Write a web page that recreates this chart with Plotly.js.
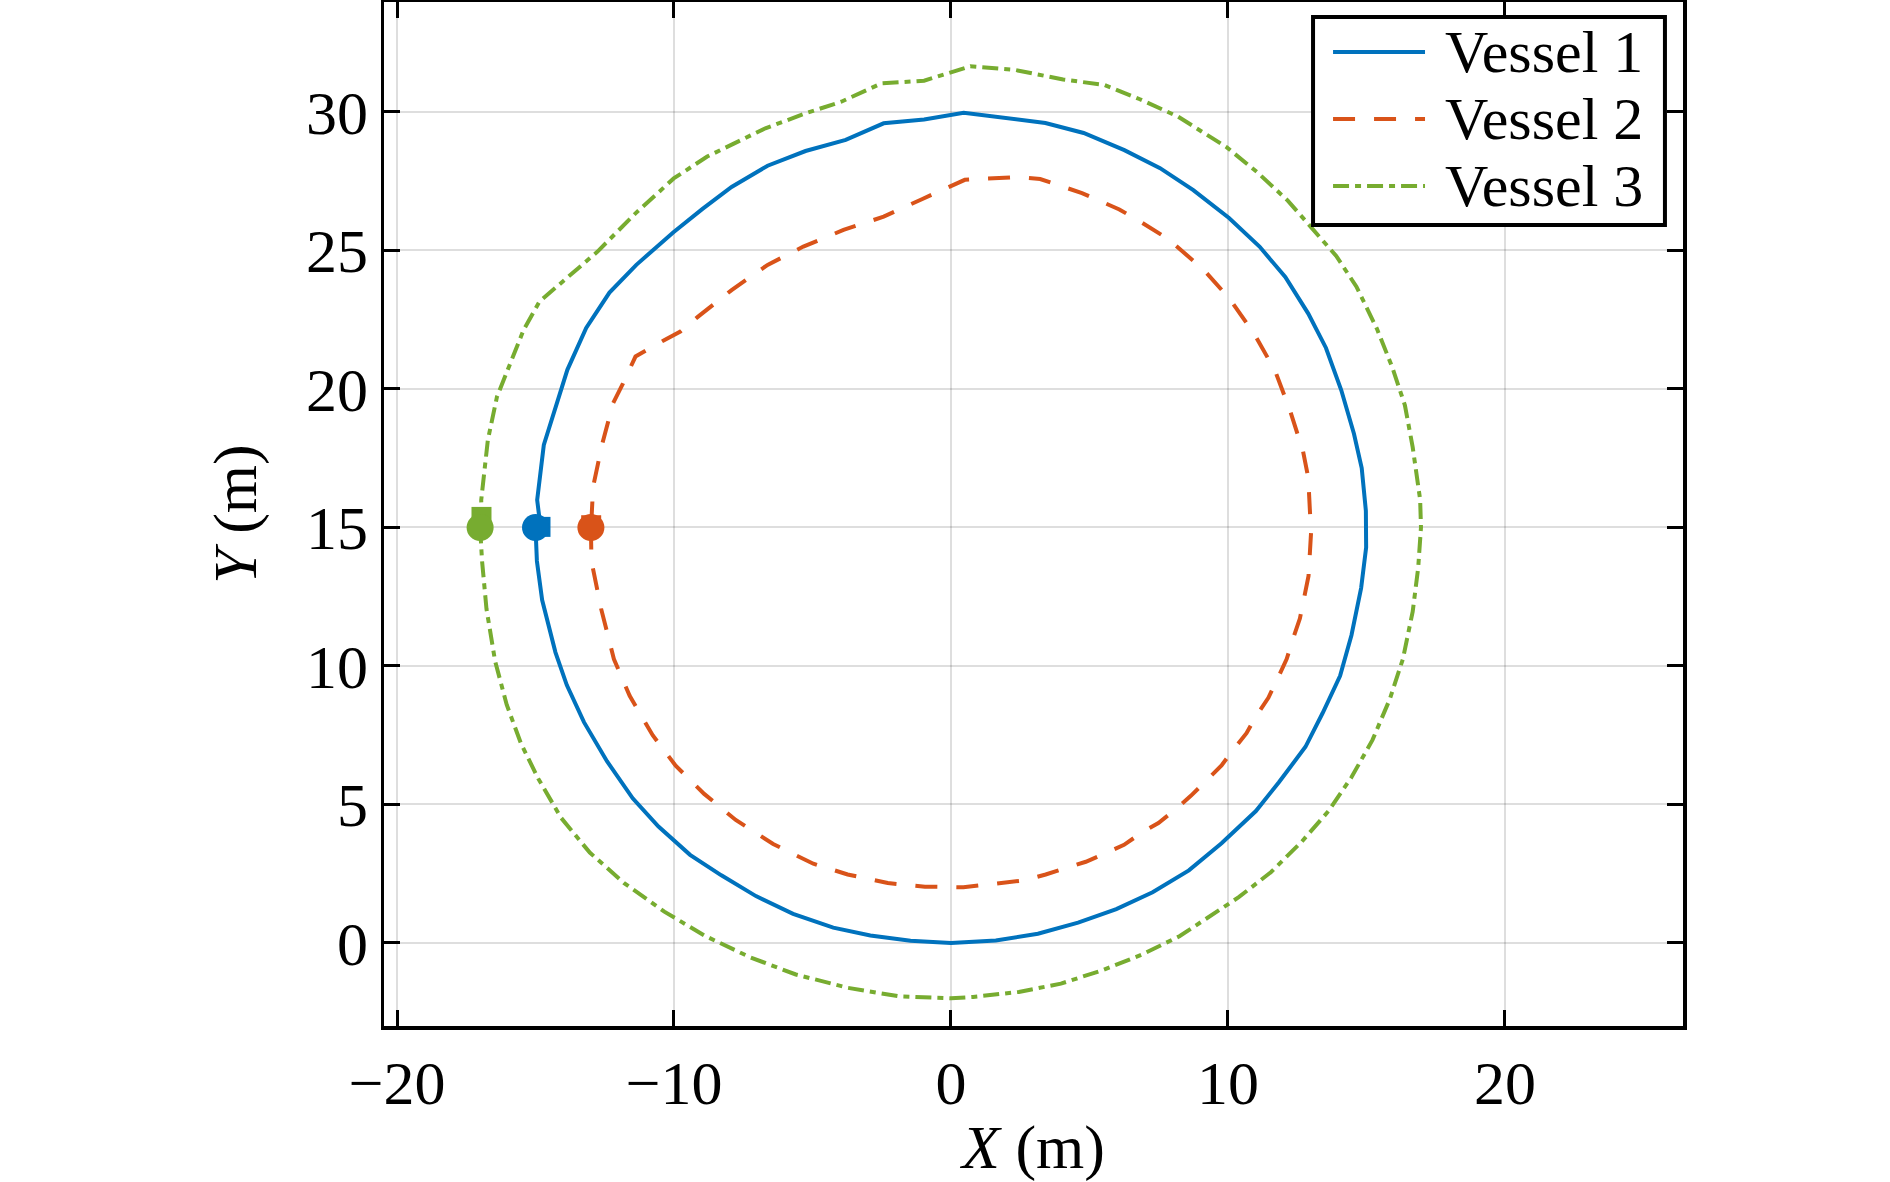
<!DOCTYPE html>
<html>
<head>
<meta charset="utf-8">
<script src="https://cdn.plot.ly/plotly-3.0.1.min.js"></script>
<style>
  html, body { margin: 0; padding: 0; background: #ffffff; }
  #chart { width: 1890px; height: 1182px; }
</style>
</head>
<body>
<div id="chart"></div>
<script>
// ---- Data ----
const seriesNames = ["Vessel 1", "Vessel 2", "Vessel 3"];

const vessel1X = [-15.0, -14.95, -14.76, -14.28, -13.87, -13.25, -12.42, -11.49, -10.56, -9.42, -8.29, -7.04, -5.70, -4.25, -2.91, -1.46, 0.0,
  1.62, 3.14, 4.59, 5.97, 7.28, 8.59, 9.77, 11.01, 11.84, 12.8, 13.42, 14.05, 14.46, 14.81, 14.99, 14.98,
  14.83, 14.55, 14.09, 13.54, 12.9, 12.07, 11.14, 10.04, 8.75, 7.55, 6.26, 4.79, 3.41, 0.46,
  -0.97, -2.43, -3.80, -5.25, -6.62, -7.92, -8.97, -10.02, -11.36, -12.33, -13.17, -13.85, -14.70, -14.94, -14.82];
const vessel1Y = [15.0, 13.79, 12.38, 10.49, 9.31, 7.97, 6.56, 5.22, 4.2, 3.18, 2.44, 1.69, 1.05, 0.55, 0.27, 0.08, 0.0,
  0.09, 0.33, 0.73, 1.22, 1.83, 2.62, 3.6, 4.76, 5.8, 7.08, 8.3, 9.64, 11.11, 12.82, 14.28, 15.6,
  17.14, 18.38, 19.96, 21.48, 22.72, 24.04, 25.14, 26.17, 27.18, 27.97, 28.62, 29.24, 29.6, 29.97,
  29.73, 29.59, 28.99, 28.59, 28.06, 27.29, 26.5, 25.66, 24.48, 23.48, 22.2, 20.69, 17.98, 15.99, 15.02];

const vessel2X = [-13.0, -12.98, -12.63, -12.17, -11.6, -10.77, -9.94, -8.91, -7.77, -6.42, -4.97, -3.73, -2.28, -0.94, 0.45,
  1.14, 1.97, 2.66, 3.42, 4.11, 4.87, 5.56, 6.25, 6.87, 7.49, 8.11, 8.66, 9.22, 9.77, 10.18, 10.67, 11.01, 11.46,
  11.81, 12.12, 12.35, 12.6, 12.91, 13.0, 12.9, 12.71, 12.25, 11.7, 10.96, 10.04, 9.12, 7.83, 6.72, 6.08, 4.73,
  3.22, 2.39, 0.5, -1.05, -2.43, -3.88, -5.33, -6.62, -7.92, -9.13, -9.77, -10.34, -11.39, -11.84, -12.2, -12.6, -12.92, -12.99];
const vessel2Y = [15.0, 13.79, 12.06, 10.25, 8.92, 7.5, 6.4, 5.38, 4.44, 3.57, 2.86, 2.47, 2.16, 2.03, 2.01,
  2.08, 2.16, 2.26, 2.47, 2.69, 2.93, 3.23, 3.54, 3.97, 4.33, 4.82, 5.31, 5.86, 6.41, 6.96, 7.57, 8.18, 8.85,
  9.58, 10.25, 10.98, 11.72, 13.25, 14.8, 16.79, 17.76, 19.2, 20.66, 21.97, 23.28, 24.31, 25.42, 26.11, 26.48, 27.07,
  27.58, 27.65, 27.55, 26.85, 26.22, 25.74, 25.14, 24.48, 23.57, 22.61, 22.07, 21.77, 21.17, 20.2, 19.48, 17.98, 16.47, 15.08];

const vessel3X = [-17.0, -16.93, -16.77, -16.46, -16.04, -15.52, -14.9, -14.08, -13.04, -11.8, -10.35, -8.91, -7.25, -5.6, -3.73, -1.87, 0.0,
  0.80, 2.45, 3.97, 5.49, 6.87, 8.25, 9.49, 10.39, 11.56, 12.67, 13.63, 14.46, 15.22, 15.84, 16.32, 16.67, 16.87, 16.97,
  16.94, 16.67, 16.39, 15.93, 15.38, 14.64, 13.91, 13.08, 12.16, 11.05, 9.95, 8.2, 6.82, 5.53, 4.05, 2.3, 0.7,
  -0.97, -2.51, -3.96, -5.25, -6.70, -8.80, -10.01, -11.39, -12.76, -13.81, -14.86, -15.43, -15.91, -16.39, -16.72, -16.96, -16.95];
const vessel3Y = [15.0, 13.79, 12.06, 10.18, 8.6, 7.19, 5.93, 4.52, 3.26, 2.16, 1.13, 0.27, -0.52, -1.14, -1.62, -1.93, -2.0,
  -1.95, -1.77, -1.47, -0.98, -0.43, 0.24, 1.04, 1.65, 2.56, 3.66, 4.76, 5.98, 7.33, 8.79, 10.26, 11.96, 13.55, 15.0,
  16.0, 17.9, 19.41, 20.79, 22.17, 23.69, 24.8, 25.76, 26.8, 27.83, 28.73, 29.83, 30.46, 30.98, 31.17, 31.52, 31.65,
  31.13, 31.03, 30.37, 29.95, 29.41, 28.39, 27.6, 26.34, 24.96, 24.05, 23.15, 22.13, 20.92, 19.72, 18.16, 15.99, 15.38];

const xTickVals = [-20, -10, 0, 10, 20];
const yTickVals = [0, 5, 10, 15, 20, 25, 30];

// ---- Styles ----
const colors = ["#0072BD", "#D95319", "#77AC30"];
const dashes = ["solid", "22px,19px", "16px,6px,6px,6px"];
const font = '"Liberation Serif", "Times New Roman", Times, serif';

const xs = [vessel1X, vessel2X, vessel3X];
const ys = [vessel1Y, vessel2Y, vessel3Y];

const traces = [];
for (let i = 0; i < 3; i++) {
  traces.push({
    type: "scatter", mode: "lines", name: seriesNames[i],
    x: xs[i], y: ys[i],
    line: { color: colors[i], width: 4, dash: dashes[i] },
    hoverinfo: "skip", showlegend: false
  });
}
// end markers (squares) then start markers (circles)
for (let i = 0; i < 3; i++) {
  const n = xs[i].length - 1;
  traces.push({
    type: "scatter", mode: "markers", showlegend: false, hoverinfo: "skip",
    x: [xs[i][n]], y: [ys[i][n]],
    marker: { symbol: "square", size: 20, color: colors[i], line: { width: 0 } }
  });
}
for (let i = 0; i < 3; i++) {
  traces.push({
    type: "scatter", mode: "markers", showlegend: false, hoverinfo: "skip",
    x: [xs[i][0]], y: [ys[i][0]],
    marker: { symbol: "circle", size: 27, color: colors[i], line: { width: 0 } }
  });
}

// ---- Legend box (paper coordinates) ----
const legendBox = { x0: 0.7152, x1: 0.9861, y0: 0.7822, y1: 0.9854 };
const legendRowY = [0.9512, 0.8857, 0.8203];
const sampleX = [0.7306, 0.8014];
const legendTextX = 0.8158;

const shapes = [{
  type: "rect", xref: "paper", yref: "paper", layer: "above",
  x0: legendBox.x0, x1: legendBox.x1, y0: legendBox.y0, y1: legendBox.y1,
  fillcolor: "#ffffff", line: { color: "#000", width: 4 }
}];
const annotations = [];
for (let i = 0; i < 3; i++) {
  shapes.push({
    type: "line", xref: "paper", yref: "paper", layer: "above",
    x0: sampleX[0], x1: sampleX[1], y0: legendRowY[i], y1: legendRowY[i],
    line: { color: colors[i], width: 4, dash: dashes[i] }
  });
  annotations.push({
    xref: "paper", yref: "paper", x: legendTextX, y: legendRowY[i],
    xanchor: "left", yanchor: "middle", showarrow: false, borderpad: 0,
    text: seriesNames[i],
    font: { family: font, size: 60, color: "#000" }
  });
}

const axisCommon = {
  showline: true, linecolor: "#000", linewidth: 3.5, mirror: "ticks",
  ticks: "inside", ticklen: 16, tickwidth: 3, tickcolor: "#000",
  showgrid: true, gridcolor: "rgba(0,0,0,0.13)", gridwidth: 2,
  zeroline: false,
  tickfont: { family: font, size: 62, color: "#000" },
  tickmode: "array"
};

const layout = {
  width: 1890, height: 1182,
  margin: { l: 384, r: 207, t: 2, b: 156, pad: 0 },
  paper_bgcolor: "#fff", plot_bgcolor: "#fff",
  font: { family: font, color: "#000" },
  showlegend: false,
  xaxis: Object.assign({}, axisCommon, {
    range: [-20.47, 26.43], tickvals: xTickVals,
    title: { text: "<i>X</i> (m)", font: { family: font, size: 62, color: "#000" }, standoff: 6 }
  }),
  yaxis: Object.assign({}, axisCommon, {
    range: [-3.0, 33.97], tickvals: yTickVals,
    title: { text: "<i>Y</i> (m)", font: { family: font, size: 62, color: "#000" }, standoff: 30 }
  }),
  shapes: shapes,
  annotations: annotations
};

Plotly.newPlot("chart", traces, layout, { staticPlot: true, displayModeBar: false });
</script>
</body>
</html>
